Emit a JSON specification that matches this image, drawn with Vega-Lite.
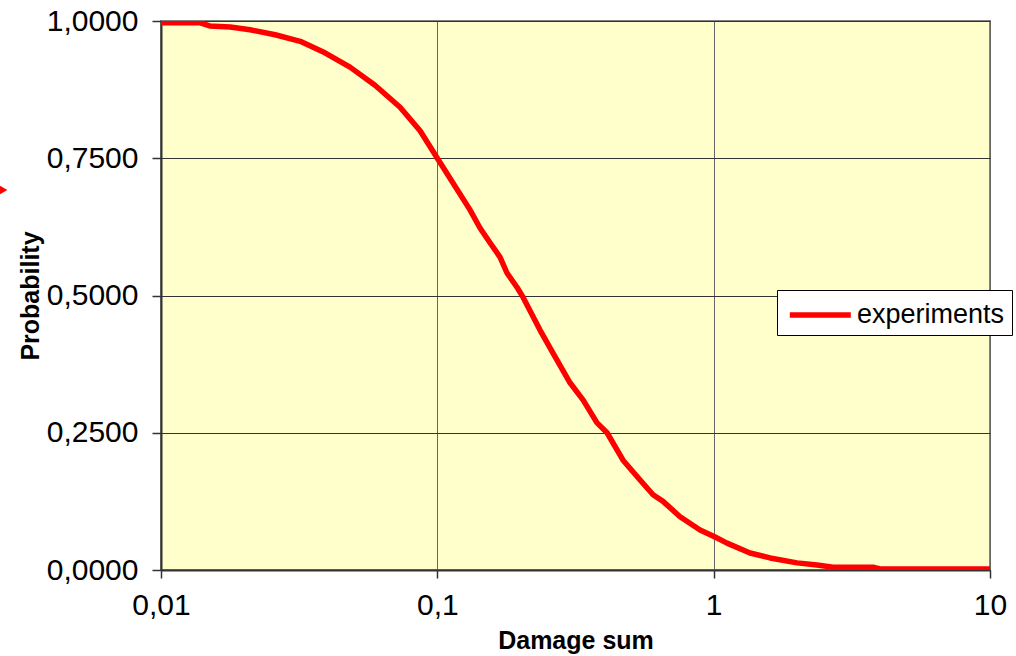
{
  "$schema": "https://vega.github.io/schema/vega-lite/v6.json",
  "autosize": {"type": "none"},
  "width": 829,
  "height": 549,
  "padding": {"left": 161, "top": 21, "right": 26, "bottom": 86},
  "background": "white",
  "config": {
    "font": "Liberation Sans",
    "view": {"fill": "#FFFFCC", "stroke": "#808080", "strokeWidth": 2}
  },
  "datasets": {
    "curve": [
      {"damage": 0.01, "prob": 0.997, "series": "experiments"},
      {"damage": 0.0138, "prob": 0.997, "series": "experiments"},
      {"damage": 0.015, "prob": 0.991, "series": "experiments"},
      {"damage": 0.0178, "prob": 0.989, "series": "experiments"},
      {"damage": 0.021, "prob": 0.984, "series": "experiments"},
      {"damage": 0.0259, "prob": 0.975, "series": "experiments"},
      {"damage": 0.0319, "prob": 0.963, "series": "experiments"},
      {"damage": 0.0392, "prob": 0.942, "series": "experiments"},
      {"damage": 0.0483, "prob": 0.916, "series": "experiments"},
      {"damage": 0.0595, "prob": 0.883, "series": "experiments"},
      {"damage": 0.0733, "prob": 0.843, "series": "experiments"},
      {"damage": 0.0866, "prob": 0.8, "series": "experiments"},
      {"damage": 0.1, "prob": 0.75, "series": "experiments"},
      {"damage": 0.1313, "prob": 0.656, "series": "experiments"},
      {"damage": 0.1427, "prob": 0.623, "series": "experiments"},
      {"damage": 0.1551, "prob": 0.596, "series": "experiments"},
      {"damage": 0.1686, "prob": 0.57, "series": "experiments"},
      {"damage": 0.1787, "prob": 0.541, "series": "experiments"},
      {"damage": 0.1942, "prob": 0.515, "series": "experiments"},
      {"damage": 0.2042, "prob": 0.497, "series": "experiments"},
      {"damage": 0.2353, "prob": 0.437, "series": "experiments"},
      {"damage": 0.2622, "prob": 0.395, "series": "experiments"},
      {"damage": 0.3021, "prob": 0.341, "series": "experiments"},
      {"damage": 0.3367, "prob": 0.31, "series": "experiments"},
      {"damage": 0.3784, "prob": 0.268, "series": "experiments"},
      {"damage": 0.4113, "prob": 0.25, "series": "experiments"},
      {"damage": 0.4699, "prob": 0.2, "series": "experiments"},
      {"damage": 0.5417, "prob": 0.164, "series": "experiments"},
      {"damage": 0.6036, "prob": 0.137, "series": "experiments"},
      {"damage": 0.6559, "prob": 0.125, "series": "experiments"},
      {"damage": 0.7557, "prob": 0.097, "series": "experiments"},
      {"damage": 0.8929, "prob": 0.073, "series": "experiments"},
      {"damage": 1.012, "prob": 0.06, "series": "experiments"},
      {"damage": 1.118, "prob": 0.049, "series": "experiments"},
      {"damage": 1.354, "prob": 0.031, "series": "experiments"},
      {"damage": 1.6, "prob": 0.022, "series": "experiments"},
      {"damage": 2.004, "prob": 0.013, "series": "experiments"},
      {"damage": 2.367, "prob": 0.009, "series": "experiments"},
      {"damage": 2.705, "prob": 0.005, "series": "experiments"},
      {"damage": 3.775, "prob": 0.005, "series": "experiments"},
      {"damage": 4.002, "prob": 0.002, "series": "experiments"},
      {"damage": 10, "prob": 0.002, "series": "experiments"}
    ],
    "marker": [
      {"damage": 0.00266, "prob": 0.692}
    ]
  },
  "layer": [
    {
      "data": {"name": "curve"},
      "mark": {"type": "line", "strokeWidth": 5.5, "strokeJoin": "round", "strokeCap": "round", "clip": true},
      "encoding": {
        "x": {
          "field": "damage",
          "type": "quantitative",
          "scale": {"type": "log", "domain": [0.01, 10], "nice": false},
          "axis": {
            "title": "Damage sum",
            "titleFontSize": 25,
            "titleFontWeight": "bold",
            "titleColor": "black",
            "titlePadding": 8,
            "values": [0.01, 0.1, 1, 10],
            "labelExpr": "replace(format(datum.value, '~g'), '.', ',')",
            "labelFontSize": 30,
            "labelColor": "black",
            "labelPadding": 12,
            "labelFlush": false,
            "labelOverlap": false,
            "tickSize": 8,
            "tickColor": "#333333",
            "tickWidth": 1.5,
            "domainColor": "#333333",
            "domainWidth": 2,
            "grid": true,
            "gridColor": "#666666",
            "gridWidth": 1,
            "gridOpacity": 1
          }
        },
        "y": {
          "field": "prob",
          "type": "quantitative",
          "scale": {"domain": [0, 1], "nice": false},
          "axis": {
            "title": "Probability",
            "titleFontSize": 25,
            "titleFontWeight": "bold",
            "titleColor": "black",
            "titlePadding": 3,
            "values": [0, 0.25, 0.5, 0.75, 1],
            "labelExpr": "replace(format(datum.value, '.4f'), '.', ',')",
            "labelFontSize": 30,
            "labelColor": "black",
            "labelPadding": 14,
            "labelFlush": false,
            "labelOverlap": false,
            "tickSize": 9,
            "tickColor": "#333333",
            "tickWidth": 1.5,
            "domainColor": "#333333",
            "domainWidth": 2,
            "grid": true,
            "gridColor": "#333333",
            "gridWidth": 1,
            "gridOpacity": 1
          }
        },
        "color": {
          "field": "series",
          "type": "nominal",
          "scale": {"range": ["#FF0000"]},
          "legend": {
            "title": null,
            "orient": "none",
            "legendX": 616,
            "legendY": 269,
            "fillColor": "white",
            "strokeColor": "black",
            "padding": 7,
            "labelFontSize": 27,
            "labelColor": "black",
            "labelOffset": 37,
            "symbolType": "M-0.8,0H3.2",
            "symbolSize": 930,
            "symbolStrokeWidth": 5.5
          }
        }
      }
    },
    {
      "data": {"name": "marker"},
      "mark": {"type": "point", "shape": "triangle-right", "filled": true, "opacity": 1, "size": 150, "color": "#FF0000", "clip": false},
      "encoding": {
        "x": {"field": "damage", "type": "quantitative"},
        "y": {"field": "prob", "type": "quantitative"}
      }
    }
  ]
}
